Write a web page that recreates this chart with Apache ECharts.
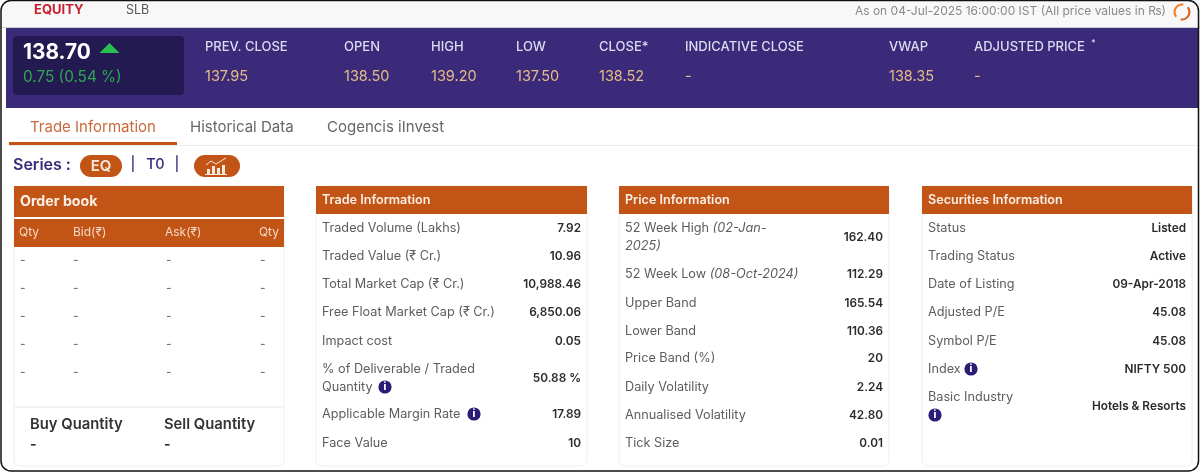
<!DOCTYPE html>
<html><head><meta charset="utf-8">
<style>html,body{margin:0;padding:0;background:#fff}#c{width:1200px;height:472px;filter:blur(0.4px)}</style>
<script src="https://cdn.jsdelivr.net/npm/echarts@6/dist/echarts.min.js"></script>
</head><body><div id="c"></div>
<script>
const marketTabs = ['EQUITY', 'SLB'];
const asOnText = 'As on 04-Jul-2025 16:00:00 IST (All price values in ₨)';
const lastPrice = '138.70';
const priceChange = '0.75 (0.54 %)';
const quoteLabels = ['PREV. CLOSE', 'OPEN', 'HIGH', 'LOW', 'CLOSE*', 'INDICATIVE CLOSE', 'VWAP', 'ADJUSTED PRICE'];
const quoteValues = ['137.95', '138.50', '139.20', '137.50', '138.52', '-', '138.35', '-'];
const pageTabs = ['Trade Information', 'Historical Data', 'Cogencis iInvest'];
const orderColumns = ['Qty', 'Bid(₹)', 'Ask(₹)', 'Qty'];
const orderRowCount = ['-', '-', '-', '-', '-'];
const totalsLabels = ['Buy Quantity', 'Sell Quantity'];
const tradeLabels = ['Traded Volume (Lakhs)', 'Traded Value (₹ Cr.)', 'Total Market Cap (₹ Cr.)', 'Free Float Market Cap (₹ Cr.)', 'Impact cost', '% of Deliverable / Traded\nQuantity', 'Applicable Margin Rate', 'Face Value'];
const tradeValues = ['7.92', '10.96', '10,988.46', '6,850.06', '0.05', '50.88 %', '17.89', '10'];
const priceLabels = ['52 Week High {i|(02-Jan-}\n{i|2025)}', '52 Week Low {i|(08-Oct-2024)}', 'Upper Band', 'Lower Band', 'Price Band (%)', 'Daily Volatility', 'Annualised Volatility', 'Tick Size'];
const priceValues = ['162.40', '112.29', '165.54', '110.36', '20', '2.24', '42.80', '0.01'];
const securityLabels = ['Status', 'Trading Status', 'Date of Listing', 'Adjusted P/E', 'Symbol P/E', 'Index', 'Basic Industry'];
const securityValues = ['Listed', 'Active', '09-Apr-2018', '45.08', '45.08', 'NIFTY 500', 'Hotels & Resorts'];

const FONT = 'Inter, "Open Sans", "DejaVu Sans", sans-serif';
const ORANGE = '#c25516', PURPLE = '#3b2a7a', NAVY = '#2a1d78', GREY = '#5d5d5d', DARK = '#2b2b2b';
const LABEL_SIZE = 12.7, VALUE_SIZE = 11.8;
const els = [];
function T(x, y, text, size, fill, weight, align, extra) {
  els.push({ type: 'text', x, y, z: 5, silent: true, style: Object.assign({
    text, fill, fontFamily: FONT, fontSize: size, fontWeight: weight || 400,
    textAlign: align || 'left', textVerticalAlign: 'middle', verticalAlign: 'middle'
  }, extra || {}) });
}
function R(x, y, w, h, fill, r, extra) {
  els.push({ type: 'rect', z: 2, silent: true, shape: { x, y, width: w, height: h, r: r || 0 }, style: Object.assign({ fill }, extra || {}) });
}
function info(cx, cy) {
  els.push({ type: 'circle', z: 4, silent: true, shape: { cx, cy, r: 6.6 }, style: { fill: NAVY } });
  T(cx, cy, 'i', 10, '#fff', 800, 'center');
}

// top strip
R(0, 0, 1200, 27, '#f8f8f8');
R(0, 27, 1200, 1, '#cfcfd6');
T(34, 10.5, marketTabs[0], 13, '#c8202f', 700);
T(126, 10.5, marketTabs[1], 12.5, '#555', 400);
T(1166, 11.5, asOnText, 12, '#8a8a8a', 400, 'right');
[[-40, 100], [140, 280]].forEach((a, i) => els.push({ type: 'arc', z: 4, silent: true,
  shape: { cx: 1182, cy: 12, r: 7.5, startAngle: a[0] * Math.PI / 180, endAngle: a[1] * Math.PI / 180 },
  style: { stroke: i ? '#f08030' : '#d9662a', lineWidth: 2.2, fill: 'none' } }));

// quote band
R(6, 28, 1192, 80, PURPLE);
R(13, 36, 171, 59, '#231a52', 4);
T(23, 53, lastPrice, 20.8, '#fff', 700);
els.push({ type: 'polygon', z: 4, silent: true, shape: { points: [[109.5, 43], [119.5, 53], [99.5, 53]] }, style: { fill: '#27c04f' } });
T(23, 77, priceChange, 15.3, '#2fa84f', 400);
const quoteX = [205, 344, 431, 516, 599, 685, 889, 974];
quoteLabels.forEach((s, i) => {
  T(quoteX[i], 47, s, 13, '#dcdcf0', 500);
  T(quoteX[i], 77, quoteValues[i], 14.5, '#e6bd85', 400);
});
T(1091, 43, '*', 9, '#dcdcf0', 500);

// page tabs
const tabX = [30, 190, 327];
pageTabs.forEach((s, i) => T(tabX[i], 127.5, s, 15, i === 0 ? '#c8693a' : '#666', 400));
R(8, 145, 1190, 1, '#ececec');
R(9, 142, 168, 3, ORANGE);

// series row
T(13, 165, 'Series :', 16, '#3b2a7a', 600);
R(80, 155, 42, 22, ORANGE, 11);
T(101, 166, 'EQ', 15, '#f7e8dc', 600, 'center');
T(133, 165, '|', 14, '#3b2a7a', 500, 'center');
T(155.5, 165, 'T0', 14.5, '#3b2a7a', 500, 'center');
T(177, 165, '|', 14, '#3b2a7a', 500, 'center');
R(194, 155, 46, 22, ORANGE, 11);
[[207, 169, 3, 5], [212, 166, 3, 8], [217, 168, 3, 6], [222, 165, 3, 9]].forEach(b => R(b[0], b[1], b[2], b[3], '#f7e8dc'));
R(205, 174, 22, 1, '#f7e8dc');
els.push({ type: 'polyline', z: 4, silent: true, shape: { points: [[206, 165], [211, 161], [216, 164], [226, 158]] }, style: { stroke: '#f7e8dc', lineWidth: 1, fill: 'none' } });

// cards
const cardX = [14, 316, 619, 922];
const cardW = [270, 271, 270, 270];
cardX.forEach((x, i) => {
  R(x, 186, cardW[i], 280, '#fff', 6, { stroke: '#eeeeee', lineWidth: 1 });
});

// order book
R(14, 186, 270, 31, ORANGE);
R(14, 219, 270, 28, ORANGE);
T(20, 202, 'Order book', 14.2, '#fbeee4', 700);
[19, 73, 165].forEach((x, i) => T(x, 232, orderColumns[i], 12, '#f3d9c6', 400));
T(279, 232, orderColumns[3], 12, '#f3d9c6', 400, 'right');
const orderY = [260, 288, 316, 344, 372];
orderRowCount.forEach((s, r) => [20, 73, 166, 260].forEach(x => T(x, orderY[r], s, 12, '#777', 500)));
R(14, 406, 270, 2, '#f3f3f3');
T(30, 424.5, totalsLabels[0], 14.8, '#333', 600);
T(164, 424.5, totalsLabels[1], 14.8, '#333', 600);
T(30, 445, '-', 14, '#333', 700);
T(164, 445, '-', 14, '#333', 700);

// info cards
function card(x, w, title, labels, values, labelY, valueY) {
  R(x, 186, w, 28, ORANGE);
  T(x + 6, 200, title, 12.6, '#fbeee4', 600);
  labels.forEach((s, i) => {
    T(x + 6, labelY[i], s, LABEL_SIZE, GREY, 400, 'left', { lineHeight: 18, rich: { i: { fontStyle: 'italic', fontSize: LABEL_SIZE, fontFamily: FONT, fill: GREY, lineHeight: 18 } } });
    T(x + w - 6, valueY[i], values[i], VALUE_SIZE, DARK, 600, 'right');
  });
}
card(316, 271, 'Trade Information', tradeLabels, tradeValues,
  [228, 256, 284, 312, 341, 378, 414, 443], [228, 256, 284, 312, 341, 378, 414, 443]);
card(619, 270, 'Price Information', priceLabels, priceValues,
  [237, 274, 303, 331, 358, 387, 415, 443], [237, 274, 303, 331, 358, 387, 415, 443]);
card(922, 270, 'Securities Information', securityLabels, securityValues,
  [228, 256, 284, 312, 341, 369, 397], [228, 256, 284, 312, 341, 369, 406]);
info(385, 387);
info(474, 414);
info(971, 369);
info(935, 415);

// outer frame
R(1, 0.5, 1197.5, 470.5, 'none', 10, { stroke: '#111', lineWidth: 1.5 });
els[els.length - 1].z = 9;

const chart = echarts.init(document.getElementById('c'), null, { renderer: 'canvas' });
chart.setOption({ animation: false, backgroundColor: '#fff', graphic: { elements: els } });
</script></body></html>
